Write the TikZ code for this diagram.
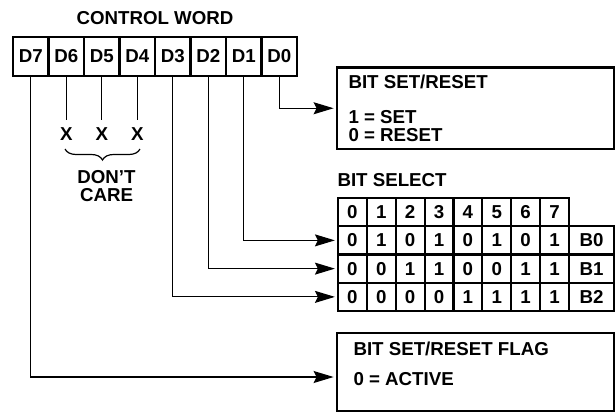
\documentclass[tikz,border=0pt]{standalone}
\usepackage{fontspec}
\setmainfont{Liberation Sans}
\usetikzlibrary{arrows.meta,decorations.pathreplacing,positioning}

\begin{document}
\begin{tikzpicture}[x=1pt, y=-1pt,
    every node/.style={font=\bfseries\fontsize{18.7}{18.4}\selectfont},
    bitcell/.style={draw, line width=2.2pt, inner sep=0pt, minimum width=35.5pt, minimum height=39.3pt},
    tcell/.style={draw, line width=2.2pt, inner sep=0pt, minimum width=28.875pt, minimum height=28.25pt},
    bigbox/.style={draw, line width=2.8pt, inner sep=0pt, minimum width=277pt},
    txt/.style={anchor=base west, inner sep=0pt},
    wire/.style={line width=1.2pt},
    arr/.style={wire, shorten >=2pt, -{Stealth[length=20pt, width=12pt, inset=3pt]}}]
    \useasboundingbox (0,0) rectangle (616,413);

    \node[anchor=base] (title) at (155,24) {CONTROL WORD};
    \foreach \i in {0,...,7} {
        \pgfmathtruncatemacro\bit{7-\i}
        \node[bitcell] (d\bit) at (30.75+35.5*\i, 56.3) {D\bit};
    }

    \foreach \b in {6,5,4} {
        \node[anchor=base, inner sep=0pt, outer sep=7.5pt] (x\b) at (d\b |- 0,140) {X};
        \draw[wire] (d\b) -- (x\b);
    }
    \draw[wire, decorate, decoration={brace, mirror, amplitude=11pt}] (65,149) -- (140,149);
    \node[align=center, inner sep=0pt] (dontcare) at (106.5,186) {DON’T\\CARE};

    \node[bigbox, minimum height=81.5pt] (setbox) at (475.5,108.25) {};
    \node[txt] (settitle) at (348.3,88.3) {BIT SET/RESET};
    \node[txt] (setone) at (348.3,123.3) {1 = SET};
    \node[txt] (setzero) at (348.3,141.7) {0 = RESET};
    \draw[arr] (d0) |- (setbox);

    \node[txt] (seltitle) at (337.3,186) {BIT SELECT};
    \foreach \c in {0,...,7} {
        \node[tcell] (h\c) at (352.44+28.875*\c, 212.1) {\c};
        \foreach \r in {0,1,2} {
            \pgfmathtruncatemacro\bit{mod(floor(\c/2^\r),2)}
            \node[tcell] (r\r-\c) at (352.44+28.875*\c, 240.375+28.25*\r) {\bit};
        }
    }
    \foreach \r in {0,1,2}
        \node[tcell, minimum width=45pt] (sel\r) at (591.5, 240.375+28.25*\r) {B\r};
    \foreach \d/\r in {1/0,2/1,3/2}
        \draw[arr] (d\d) |- (r\r-0);

    \node[bigbox, minimum height=78pt] (flagbox) at (475.5,372) {};
    \node[txt] (flagtitle) at (353.3,355) {BIT SET/RESET FLAG};
    \node[txt] (flagzero) at (353.3,385.7) {0 = ACTIVE};
    \draw[arr] (d7) |- ([yshift=-5pt]flagbox.west);
\end{tikzpicture}
\end{document}
